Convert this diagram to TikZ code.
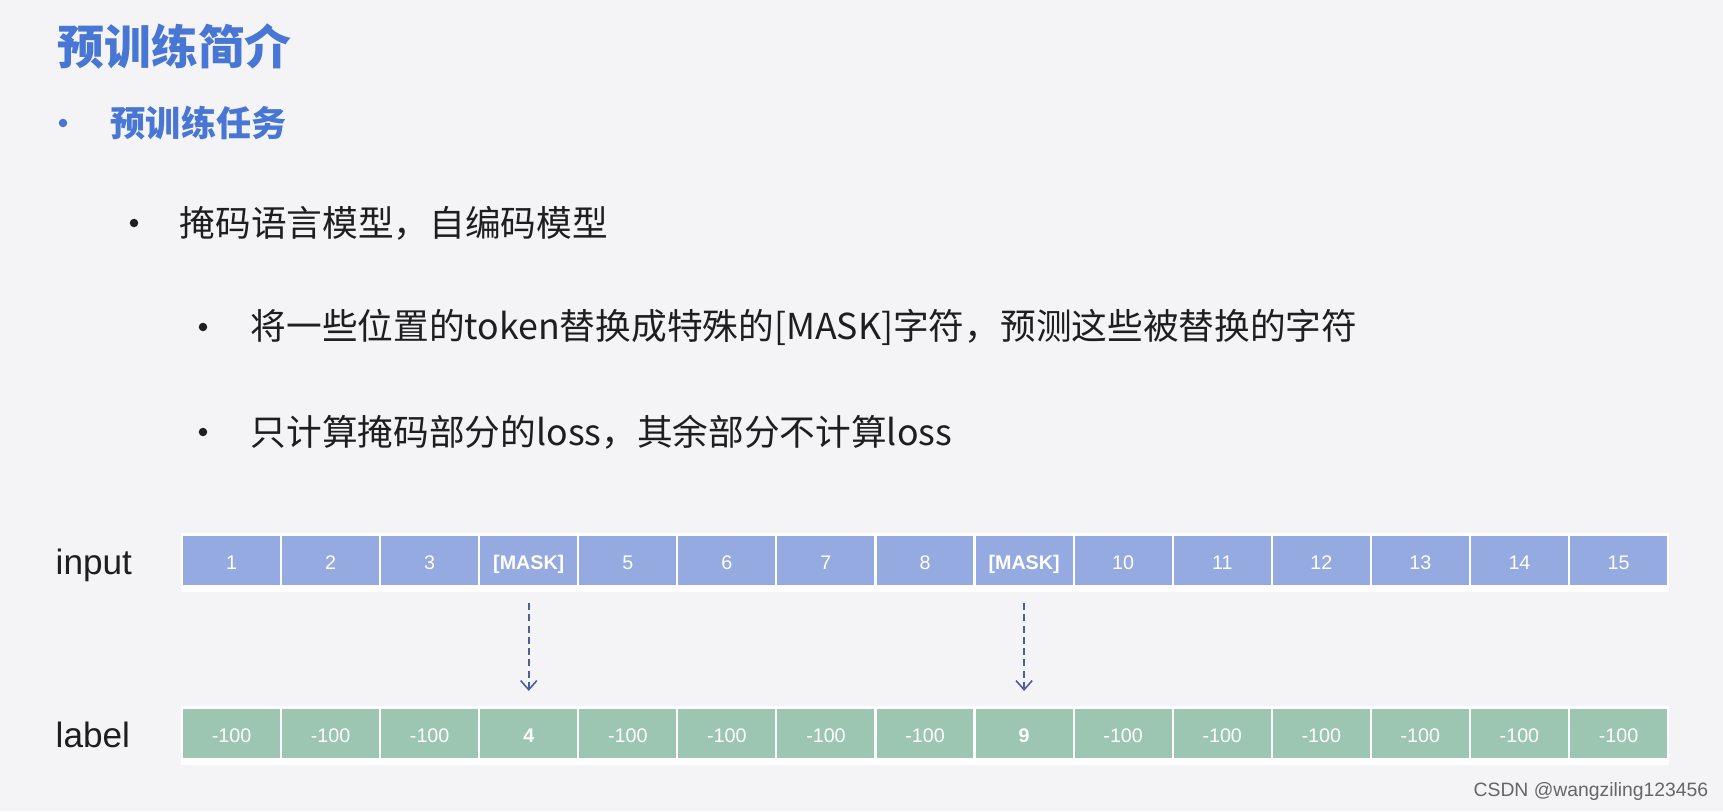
\documentclass[tikz,border=0pt]{standalone}
\usepackage{fontspec}
\setmainfont{Liberation Sans}
\newfontfamily\cjk{Noto Sans CJK SC}
\usepackage{tikz}
\usetikzlibrary{arrows.meta,positioning}
\definecolor{bgcol}{RGB}{244,244,247}
\definecolor{titleblue}{RGB}{72,118,212}
\definecolor{inblue}{RGB}{149,170,224}
\definecolor{lbgreen}{RGB}{156,198,178}
\definecolor{arrowcol}{RGB}{76,95,150}
\definecolor{bodytext}{RGB}{30,30,30}

\begin{document}
\begin{tikzpicture}[
        x=0.01cm, y=-0.01cm,
        heading/.style={anchor=west, inner sep=0pt, text=titleblue, font=\cjk\bfseries\fontsize{13.3}{15}\selectfont},
        subheading/.style={anchor=west, inner sep=0pt, text=titleblue, font=\cjk\bfseries\fontsize{10}{12}\selectfont},
        bodyline/.style={anchor=west, inner sep=0pt, text=bodytext, font=\cjk\fontsize{10.15}{12}\selectfont},
        dot/.style={circle, fill=bodytext, inner sep=0pt, minimum size=0.085cm},
        rowname/.style={anchor=west, inner sep=0pt, text=bodytext, font=\fontsize{10}{12}\selectfont},
        inputcell/.style={draw=white, line width=0.6pt, fill=inblue, minimum width=0.991cm, minimum height=0.51cm, inner sep=0pt, text height=5.2pt, text depth=0pt, text=white, font=\fontsize{5.6}{6}\selectfont},
        labelcell/.style={inputcell, fill=lbgreen},
        arr/.style={-{Straight Barb[length=2.6pt,width=4.6pt]}, arrowcol, line width=0.45pt, dash pattern=on 2pt off 1.2pt, shorten <=0.16cm, shorten >=0.16cm}
    ]
        \fill[bgcol] (0,0) rectangle (1723,811);
        \useasboundingbox (0,0) rectangle (1723,811);

        % headings and bullet list
        \node[heading] (title) at (57,46) {预训练简介};
        \node[dot, fill=titleblue] (b1) at (63,123) {};
        \node[subheading] (task) at (110,123) {预训练任务};
        \node[dot] (b2) at (134,223) {};
        \node[bodyline] (mlm) at (179,223) {掩码语言模型，自编码模型};
        \node[dot] (b3) at (203,327) {};
        \node[bodyline] (replace) at (250,327) {将一些位置的token替换成特殊的[MASK]字符，预测这些被替换的字符};
        \node[dot] (b4) at (203,432) {};
        \node[bodyline] (loss) at (250,432) {只计算掩码部分的loss，其余部分不计算loss};

        % token rows
        \fill[white] (181,533) rectangle (1669,592);
        \fill[white] (181,706) rectangle (1669,765);
        \node[rowname] (inputname) at (55,565) {input};
        \node[rowname] (labelname) at (55,735) {label};
        \foreach \t [count=\i] in {1,2,3,\textbf{[MASK]},5,6,7,8,\textbf{[MASK]},10,11,12,13,14,15}
            \node[inputcell] (in\i) at ({182+(\i-0.5)*99.07},560.5) {\t};
        \foreach \t [count=\i] in {-100,-100,-100,\textbf{4},-100,-100,-100,-100,\textbf{9},-100,-100,-100,-100,-100,-100}
            \node[labelcell] (lb\i) at ({182+(\i-0.5)*99.07},733.5) {\t};

        \draw[arr] (in4) -- (lb4);
        \draw[arr] (in9) -- (lb9);

        \node[anchor=east, inner sep=0pt, text=black!60, font=\fontsize{5.5}{6}\selectfont] (mark) at (1709,791) {CSDN @wangziling123456};
    \end{tikzpicture}
\end{document}
